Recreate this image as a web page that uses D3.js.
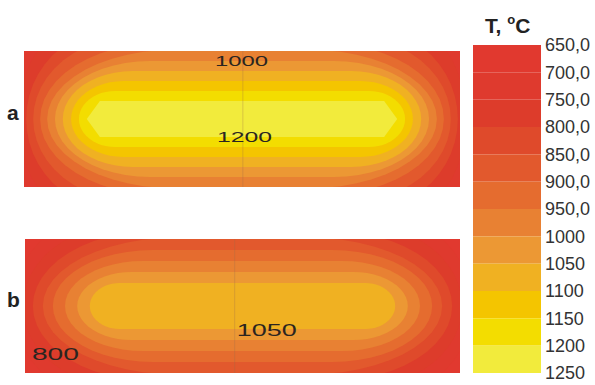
<!DOCTYPE html>
<html>
<head>
<meta charset="utf-8">
<script src="https://cdn.jsdelivr.net/npm/d3@7"></script>
<style>
  body { margin: 0; background: #fff; }
  svg text { font-family: "Liberation Sans", Arial, sans-serif; }
</style>
</head>
<body>
<div id="chart"></div>
<script>
// temperature scale (legend)
const levels = [650, 700, 750, 800, 850, 900, 950, 1000, 1050, 1100, 1150, 1200, 1250];
const legendLabels = ["650,0", "700,0", "750,0", "800,0", "850,0", "900,0", "950,0",
  "1000", "1050", "1100", "1150", "1200", "1250"];
const bandColors = ["#e1392f", "#df3a2e", "#dd3c2b", "#df4a2b", "#e2592d", "#e56c2f",
  "#e88133", "#ec9834", "#f0b122", "#f4c500", "#f3dd00", "#f2eb3c"];

// panel a: isotherms, in % of slab length (x) and thickness (y)
const aLevels = [700, 750, 800, 850, 900, 950, 1000, 1050, 1100, 1150, 1200];
const aTop  = [-26.5, -21.3, -16.2, -11, -5.9, -1.1, 7.4, 14.7, 22.1, 29.4, 36.8]; // distance from top face at mid-length
const aSide = [-3.2, -1.4, 0.5, 2.1, 3.7, 5.3, 7.1, 8.9, 10.8, 12.6, 14.4];        // distance from end face at mid-thickness
const aCap  = [16, 15.5, 20.6, 23.6, 27.8, 29.8, 21.8, 16, 12, 8.3, 3];            // length of the curved end
const aTip  = ["round", "round", "round", "round", "round", "round", "round", "round", "round", "round", "point"];

// panel b
const bLevels = [700, 750, 800, 850, 900, 950, 1000, 1050];
const bTop  = [-16.4, -11.2, -6, -1.1, 8.2, 16.4, 24.6, 32.8];
const bSide = [-2.8, -0.5, 1.8, 4.1, 6.4, 9.2, 12, 14.9];
const bCap  = [20.2, 23.9, 28, 31, 23, 17.9, 12.6, 6.9];
const bTip  = ["round", "round", "round", "round", "round", "round", "round", "round"];

// thin seam line and labelled isotherms
const seamX = [50.2, 48.2];
const aLabels = [{ t: "1000", x: 49.9, y: 11 }, { t: "1200", x: 50.6, y: 66.7 }];
const bLabels = [{ t: "1050", x: 55.6, y: 72.4 }, { t: "800", x: 7, y: 90.3 }];

const width = 595, height = 385;

const svg = d3.select("#chart").append("svg")
  .attr("width", width)
  .attr("height", height);

const colorOf = lv => bandColors[levels.indexOf(lv)];

function drawPanel(id, box, lv, top, side, cap, tip, seam, labels, labelSize) {
  const x = d3.scaleLinear().domain([0, 100]).range([box.x0, box.x1]);
  const y = d3.scaleLinear().domain([0, 100]).range([box.y0, box.y1]);

  svg.append("clipPath").attr("id", "clip-" + id)
    .append("rect")
    .attr("x", box.x0).attr("y", box.y0)
    .attr("width", box.x1 - box.x0).attr("height", box.y1 - box.y0);

  const g = svg.append("g").attr("clip-path", "url(#clip-" + id + ")");

  g.append("rect")
    .attr("x", box.x0).attr("y", box.y0)
    .attr("width", box.x1 - box.x0).attr("height", box.y1 - box.y0)
    .attr("fill", bandColors[0]);

  const line = d3.line().x(p => x(p[0])).y(p => y(p[1]));

  // build each isotherm as a stadium shape
  const shapes = lv.map((L, i) => {
    const t = top[i], s = side[i], c = cap[i], ry = 50 - t;
    const pts = [];
    if (tip[i] === "point") {
      pts.push([s + c, t], [100 - s - c, t], [100 - s, 50], [100 - s - c, 100 - t],
        [s + c, 100 - t], [s, 50]);
    } else {
      pts.push([s + c, t]);
      for (let k = 0; k <= 24; k++) {
        const a = -Math.PI / 2 + Math.PI * k / 24;
        pts.push([100 - s - c + c * Math.cos(a), 50 + ry * Math.sin(a)]);
      }
      for (let k = 0; k <= 24; k++) {
        const a = Math.PI / 2 + Math.PI * k / 24;
        pts.push([s + c + c * Math.cos(a), 50 + ry * Math.sin(a)]);
      }
    }
    return { level: L, pts: pts };
  });

  g.selectAll("path.iso")
    .data(shapes)
    .enter().append("path")
    .attr("class", "iso")
    .attr("d", d => line(d.pts) + "Z")
    .attr("fill", d => colorOf(d.level));

  // seam
  g.append("line")
    .attr("x1", x(seam)).attr("x2", x(seam))
    .attr("y1", box.y0).attr("y2", box.y1)
    .attr("stroke", "#9a6a4a")
    .attr("stroke-opacity", 0.3)
    .attr("stroke-width", 1);

  svg.append("g").selectAll("text")
    .data(labels)
    .enter().append("text")
    .attr("x", d => x(d.x))
    .attr("y", d => y(d.y))
    .attr("text-anchor", "middle")
    .attr("font-size", labelSize.font)
    .attr("textLength", (d, i) => labelSize.len[i])
    .attr("lengthAdjust", "spacingAndGlyphs")
    .attr("fill", "#2b2520")
    .text(d => d.t);
}

drawPanel("a", { x0: 24, x1: 460, y0: 51, y1: 187 }, aLevels, aTop, aSide, aCap, aTip,
  seamX[0], aLabels, { font: 14, len: [53, 55] });
drawPanel("b", { x0: 25, x1: 460, y0: 239, y1: 373 }, bLevels, bTop, bSide, bCap, bTip,
  seamX[1], bLabels, { font: 17, len: [60, 47] });

// panel letters
svg.append("text").attr("x", 7).attr("y", 120)
  .attr("font-size", 21).attr("font-weight", "bold").attr("fill", "#222").text("a");
svg.append("text").attr("x", 7).attr("y", 307)
  .attr("font-size", 21).attr("font-weight", "bold").attr("fill", "#222").text("b");

// legend
const ly = d3.scaleLinear().domain([650, 1250]).range([45, 373]);
const legend = svg.append("g");

legend.selectAll("rect")
  .data(bandColors)
  .enter().append("rect")
  .attr("x", 473)
  .attr("width", 68)
  .attr("y", (d, i) => ly(levels[i]))
  .attr("height", (d, i) => ly(levels[i + 1]) - ly(levels[i]))
  .attr("fill", d => d);

const axis = d3.axisRight(ly)
  .tickValues(levels)
  .tickFormat((d, i) => legendLabels[i])
  .tickSize(0)
  .tickPadding(4);

const ax = svg.append("g")
  .attr("transform", "translate(541,0)")
  .call(axis);
ax.select(".domain").remove();
ax.selectAll("text")
  .attr("font-size", 18)
  .attr("font-family", "'Liberation Sans', Arial, sans-serif")
  .attr("fill", "#333");

const title = svg.append("text")
  .attr("x", 485).attr("y", 33)
  .attr("font-size", 21).attr("font-weight", "bold").attr("fill", "#222");
title.append("tspan").text("T, ");
title.append("tspan").attr("font-size", 13)
  .attr("dy", -9).text("o");
title.append("tspan").attr("dy", 9).text("C");
</script>
</body>
</html>
